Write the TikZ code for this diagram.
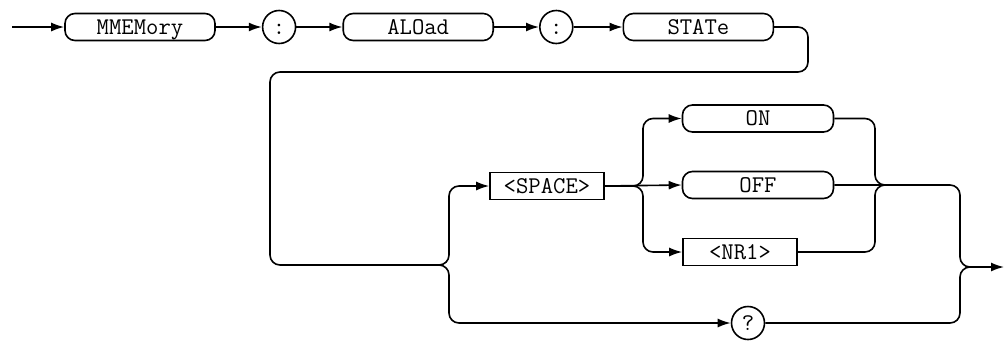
\documentclass[tikz,border=0pt]{standalone}
\usepackage{fontspec}
\usepackage{tikz}
\usetikzlibrary{positioning,arrows.meta}

\begin{document}
\begin{tikzpicture}[x=1pt, y=-1pt,
  txt/.style={font=\fontsize{24}{27}\selectfont\ttfamily, text height=14.5pt, text depth=0pt, inner sep=0pt},
  kw/.style={txt, rectangle, draw, rounded corners=10pt, minimum width=150pt, minimum height=27pt, line width=1.6pt},
  param/.style={txt, rectangle, draw, minimum width=114pt, minimum height=27pt, line width=1.6pt},
  sepr/.style={txt, circle, draw, minimum size=33pt, line width=1.6pt},
  arr/.style={-{Latex[length=13pt,width=9pt]}, line width=1.6pt, rounded corners=10pt},
  ln/.style={line width=1.6pt, rounded corners=10pt}
]
\useasboundingbox (0,0) rectangle (1005,341);
% header row
\coordinate (entry) at (12,27);
\node[kw] (mmem) at (140,27) {MMEMory};
\node[sepr, right=46pt of mmem] (col1) {:};
\node[kw, right=46pt of col1] (aload) {ALOad};
\node[sepr, right=45pt of aload] (col2) {:};
\node[kw, right=49pt of col2] (state) {STATe};
\draw[arr] (entry) -- (mmem);
\draw[arr] (mmem) -- (col1);
\draw[arr] (col1) -- (aload);
\draw[arr] (aload) -- (col2);
\draw[arr] (col2) -- (state);
% argument part
\node[param] (space) at (547,186) {<SPACE>};
\node[kw, minimum width=151pt] (on) at (758,118.5) {ON};
\node[kw, minimum width=151pt] (off) at (758,185) {OFF};
\node[param] (nr1) at (740,252) {<NR1>};
\node[sepr] (query) at (748,323) {?};
\coordinate (wrap) at (808,72);
\coordinate (back) at (270,265);
\coordinate (fork0) at (439,265);
\coordinate (fork) at (449,265);
\coordinate (split0) at (633,186);
\coordinate (split) at (643,186);
\coordinate (join) at (875,185);
\coordinate (joinr) at (885,185);
\coordinate (exit) at (960,267);
\coordinate (exitr) at (970,267);
\coordinate (out) at (1004,267);
\draw[arr] (state.east) -| (wrap) -| (back) -- (fork) |- (space.west);
\draw[arr] (fork0) -- (fork) |- (query.west);
\draw[arr] (space.east) -- (split) |- (on.west);
\draw[arr] (space.east) -- (off.west);
\draw[arr] (split0) -- (split) |- (nr1.west);
\draw[ln] (on.east) -| (join) -- (joinr);
\draw[ln] (nr1.east) -| (join) -- (joinr);
\draw[arr] (off.east) -| (exit) -- (out);
\draw[ln] (query.east) -| (exit) -- (exitr);
\end{tikzpicture}
\end{document}
